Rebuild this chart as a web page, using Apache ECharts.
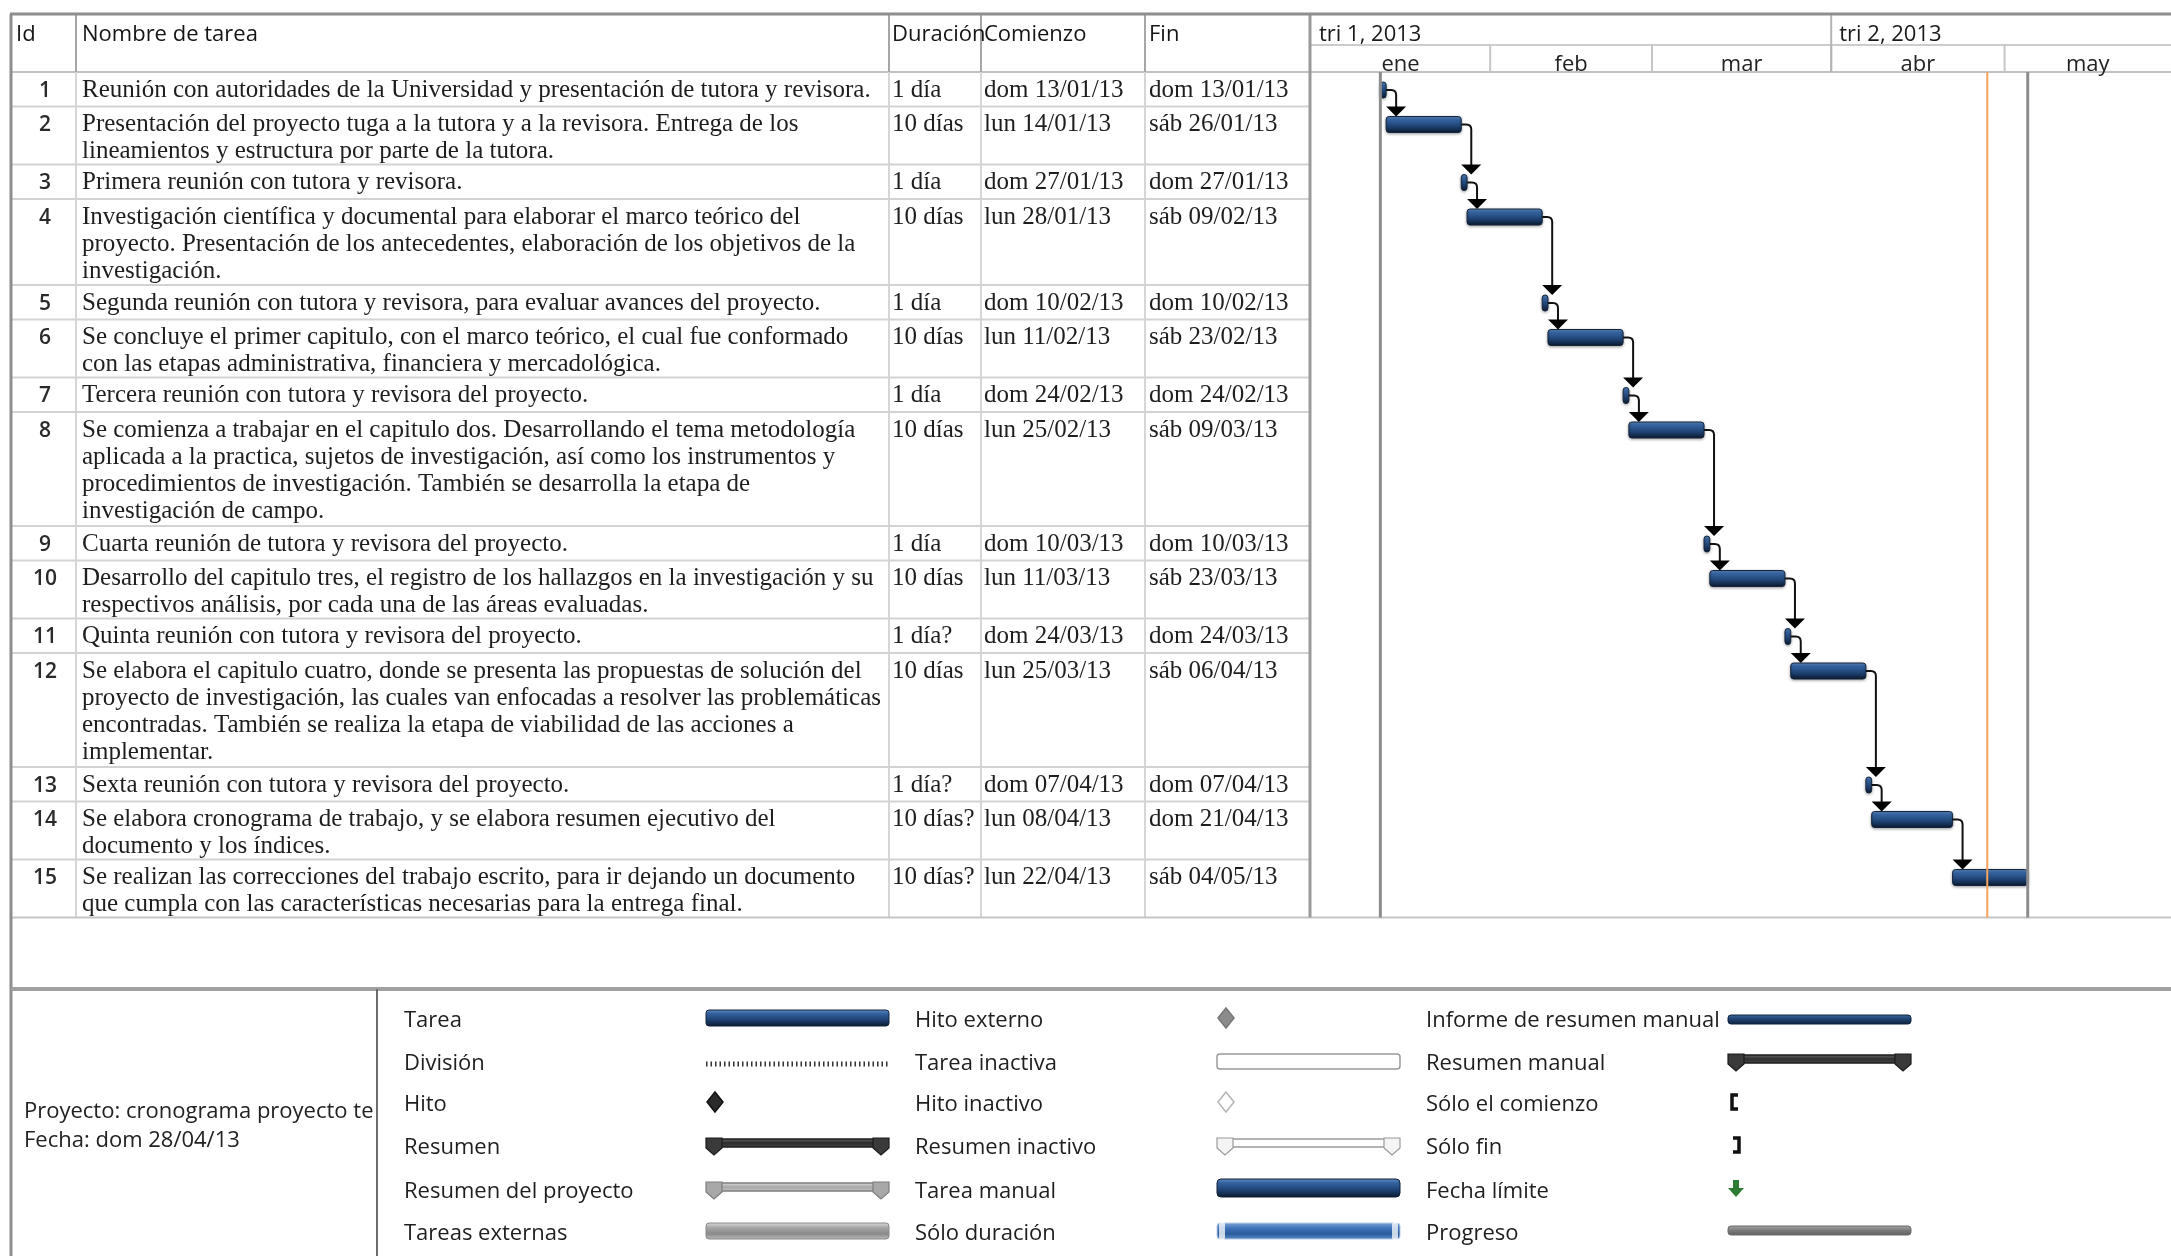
<!DOCTYPE html>
<html>
<head>
<meta charset="utf-8">
<title>Cronograma proyecto</title>
<script src="https://cdn.jsdelivr.net/npm/echarts@6/dist/echarts.min.js"></script>
<style>
  html, body { margin: 0; padding: 0; background: #ffffff; }
  #chart { width: 2171px; height: 1256px; }
</style>
</head>
<body>
<div id="chart"></div>
<script>
// ---------------- Datos del cronograma ----------------
const taskIds = [1, 2, 3, 4, 5, 6, 7, 8, 9, 10, 11, 12, 13, 14, 15];

const taskNames = [
  ["Reunión con autoridades de la Universidad y presentación de tutora y revisora."],
  ["Presentación del proyecto tuga a la tutora y a la revisora. Entrega de los",
   "lineamientos y estructura por parte de la tutora."],
  ["Primera reunión con tutora y revisora."],
  ["Investigación científica y documental para elaborar el marco teórico del",
   "proyecto. Presentación de los antecedentes, elaboración de los objetivos de la",
   "investigación."],
  ["Segunda reunión con tutora y revisora, para evaluar avances del proyecto."],
  ["Se concluye el primer capitulo, con el marco teórico, el cual fue conformado",
   "con las etapas administrativa, financiera y mercadológica."],
  ["Tercera reunión con tutora y revisora del proyecto."],
  ["Se comienza a trabajar en el capitulo dos. Desarrollando el tema metodología",
   "aplicada a la practica, sujetos de investigación, así como los instrumentos y",
   "procedimientos de investigación. También se desarrolla la etapa de",
   "investigación de campo."],
  ["Cuarta reunión de tutora y revisora del proyecto."],
  ["Desarrollo del capitulo tres, el registro de los hallazgos en la investigación y su",
   "respectivos análisis, por cada una de las áreas evaluadas."],
  ["Quinta reunión con tutora y revisora del proyecto."],
  ["Se elabora el capitulo cuatro, donde se presenta las propuestas de solución del",
   "proyecto de investigación, las cuales van enfocadas a resolver las problemáticas",
   "encontradas. También se realiza la etapa de viabilidad de las acciones a",
   "implementar."],
  ["Sexta reunión con tutora y revisora del proyecto."],
  ["Se elabora cronograma de trabajo, y se elabora resumen ejecutivo del",
   "documento y los índices."],
  ["Se realizan las correcciones del trabajo escrito, para ir dejando un documento",
   "que cumpla con las características necesarias para la entrega final."]
];

const durations = ["1 día", "10 días", "1 día", "10 días", "1 día", "10 días", "1 día", "10 días",
  "1 día", "10 días", "1 día?", "10 días", "1 día?", "10 días?", "10 días?"];

const startDates = ["dom 13/01/13", "lun 14/01/13", "dom 27/01/13", "lun 28/01/13", "dom 10/02/13",
  "lun 11/02/13", "dom 24/02/13", "lun 25/02/13", "dom 10/03/13", "lun 11/03/13", "dom 24/03/13",
  "lun 25/03/13", "dom 07/04/13", "lun 08/04/13", "lun 22/04/13"];

const endDates = ["dom 13/01/13", "sáb 26/01/13", "dom 27/01/13", "sáb 09/02/13", "dom 10/02/13",
  "sáb 23/02/13", "dom 24/02/13", "sáb 09/03/13", "dom 10/03/13", "sáb 23/03/13", "dom 24/03/13",
  "sáb 06/04/13", "dom 07/04/13", "dom 21/04/13", "sáb 04/05/13"];

// Predecesora de cada tarea (fin a comienzo)
const predecessors = [null, 1, 2, 3, 4, 5, 6, 7, 8, 9, 10, 11, 12, 13, 14];

const columnTitles = ["Id", "Nombre de tarea", "Duración", "Comienzo", "Fin"];
const quarterLabels = ["tri 1, 2013", "tri 2, 2013"];
const monthLabels = ["ene", "feb", "mar", "abr", "may"];
const timescaleYear = 2013;

const projectTitle = "Proyecto: cronograma proyecto te";
const reportDate = "dom 28/04/13";

const legendLabels = [
  ["Tarea", "División", "Hito", "Resumen", "Resumen del proyecto", "Tareas externas"],
  ["Hito externo", "Tarea inactiva", "Hito inactivo", "Resumen inactivo", "Tarea manual", "Sólo duración"],
  ["Informe de resumen manual", "Resumen manual", "Sólo el comienzo", "Sólo fin", "Fecha límite", "Progreso"]
];

// ---------------- Conversión de fechas ----------------
const DAY_MS = 86400000;
const ORIGIN = Date.UTC(timescaleYear, 0, 1);
function dayOf(str) {
  const part = str.trim().split(" ").pop();
  const [dd, mm, yy] = part.split("/").map(Number);
  return (Date.UTC(2000 + yy, mm - 1, dd) - ORIGIN) / DAY_MS;
}
const startDay = startDates.map(dayOf);
const finishDay = endDates.map(s => dayOf(s) + 1);   // fin del último día
const statusDay = dayOf(reportDate);
const projectStart = Math.min(...startDay);
const projectFinish = Math.max(...finishDay);

// ---------------- Diseño ----------------
const W = 2171, H = 1256;
const TABLE_L = 11, TOP = 14, HEAD_B = 72, GANTT_L = 1310;
const COL_SEP = [76, 889, 981, 1145];
const COL_TEXT = { id: 45, name: 82, dur: 892, start: 984, fin: 1149 };
const ROW_LINE = 28, TEXT_LINE = 27, MIN_ROW = 34.5, ROW_PAD = 2, TEXT_OFF = 18;
const BAR_OFF = 10, BAR_H = 16;
const PX_PER_DAY = 5.78;
const HEAD_TXT_Y = 35, MONTH_TXT_Y = 65;

const rowH = taskNames.map(l => Math.max(MIN_ROW, ROW_PAD + ROW_LINE * l.length));
const rowTop = [];
let acc = 0;
rowH.forEach(h => { rowTop.push(acc); acc += h; });
const TOTAL_H = acc;
const TABLE_B = HEAD_B + TOTAL_H;

const X_MIN = -1 / PX_PER_DAY;
const X_MAX = X_MIN + (W - GANTT_L) / PX_PER_DAY;

const SANS = '"Open Sans", "Noto Sans", sans-serif';
const SERIF = '"Liberation Serif", "DejaVu Serif", serif';
const BODY_FONT = '25px ' + SERIF;
const HEAD_FONT = '22px ' + SANS;

const barFill = new echarts.graphic.LinearGradient(0, 0, 0, 1, [
  { offset: 0, color: '#6390c8' },
  { offset: 0.22, color: '#3564a1' },
  { offset: 0.6, color: '#1f4374' },
  { offset: 1, color: '#0a182c' }
]);

// ---------------- Series ----------------
const tableData = taskIds.map((id, i) => [X_MIN, X_MIN, rowTop[i], rowTop[i] + rowH[i], i]);
const taskData = taskIds.map((id, i) => [startDay[i], finishDay[i], rowTop[i] + BAR_OFF, rowTop[i] + BAR_OFF + BAR_H, i]);
const monthData = monthLabels.map((m, k) => [
  (Date.UTC(timescaleYear, k, 1) - ORIGIN) / DAY_MS,
  (Date.UTC(timescaleYear, k + 1, 1) - ORIGIN) / DAY_MS, 0, 0, k]);
const quarterData = quarterLabels.map((q, k) => [
  (Date.UTC(timescaleYear, k * 3, 1) - ORIGIN) / DAY_MS,
  (Date.UTC(timescaleYear, k * 3 + 3, 1) - ORIGIN) / DAY_MS, 0, 0, k]);
const dateLineData = [
  [projectStart, projectStart, 0, TOTAL_H, 0],
  [statusDay, statusDay, 0, TOTAL_H, 1],
  [projectFinish, projectFinish, 0, TOTAL_H, 2]
];

function renderRow(params, api) {
  const i = api.value(4);
  const y0 = api.coord([X_MIN, api.value(2)])[1];
  const y1 = api.coord([X_MIN, api.value(3)])[1];
  const first = y0 + TEXT_OFF;
  const txt = (text, x, y, extra) => ({
    type: 'text',
    style: Object.assign({ text, x, y, verticalAlign: 'middle', align: 'left', font: BODY_FONT, fill: '#1e1e1e' }, extra || {})
  });
  const children = [];
  if (i < taskIds.length - 1) {
    children.push({ type: 'line', shape: { x1: TABLE_L, y1: y1, x2: GANTT_L, y2: y1 },
      style: { stroke: '#d3d3d3', lineWidth: 2 } });
  }
  children.push(txt(String(taskIds[i]), COL_TEXT.id, first + 1,
    { align: 'center', font: '600 21px ' + SANS, fill: '#2a2a2a' }));
  taskNames[i].forEach((ln, k) => children.push(txt(ln, COL_TEXT.name, first + k * TEXT_LINE)));
  children.push(txt(durations[i], COL_TEXT.dur, first));
  children.push(txt(startDates[i], COL_TEXT.start, first));
  children.push(txt(endDates[i], COL_TEXT.fin, first));
  return { type: 'group', children };
}

function renderTask(params, api) {
  const i = api.value(4);
  const a = api.coord([api.value(0), api.value(2)]);
  const b = api.coord([api.value(1), api.value(3)]);
  const children = [{
    type: 'rect',
    shape: { x: a[0], y: a[1], width: Math.max(b[0] - a[0], 4), height: b[1] - a[1], r: 3 },
    style: { fill: barFill, stroke: '#14253d', lineWidth: 1,
      shadowBlur: 3, shadowColor: 'rgba(0,0,0,0.35)', shadowOffsetY: 1 }
  }];
  // Vínculos fin-a-comienzo hacia las sucesoras
  predecessors.forEach((p, j) => {
    if (p !== taskIds[i]) return;
    const yc = (a[1] + b[1]) / 2;
    const sTop = api.coord([startDay[j], rowTop[j] + BAR_OFF])[1];
    const vx = b[0] + 10;
    const tipY = sTop;
    children.push({
      type: 'path',
      shape: { pathData: `M${b[0]},${yc} L${vx - 5},${yc} Q${vx},${yc} ${vx},${yc + 5} L${vx},${tipY - 9}` },
      style: { stroke: '#111', lineWidth: 2, fill: null }
    });
    children.push({
      type: 'polygon',
      shape: { points: [[vx - 10, tipY - 10], [vx + 10, tipY - 10], [vx, tipY]] },
      style: { fill: '#000' }
    });
  });
  return { type: 'group', children };
}

function renderDateLine(params, api) {
  const k = api.value(4);
  const p0 = api.coord([api.value(0), api.value(2)]);
  const p1 = api.coord([api.value(0), api.value(3)]);
  const style = k === 1 ? { stroke: '#f6a25a', lineWidth: 2 } : { stroke: '#8d8d8d', lineWidth: 3 };
  return { type: 'line', shape: { x1: p0[0], y1: p0[1], x2: p1[0], y2: p1[1] }, style };
}

function clampX(x) { return Math.min(Math.max(x, GANTT_L), W); }

function renderMonth(params, api) {
  const k = api.value(4);
  const xs = api.coord([api.value(0), 0])[0];
  const xe = api.coord([api.value(1), 0])[0];
  const l = clampX(xs), r = clampX(xe);
  const children = [];
  if (xs > GANTT_L + 2) {
    children.push({ type: 'line', shape: { x1: xs, y1: 45, x2: xs, y2: HEAD_B },
      style: { stroke: '#c6c6c6', lineWidth: 2 } });
  }
  if (r - l > 20) {
    children.push({ type: 'text', style: { text: monthLabels[k], x: (l + r) / 2, y: MONTH_TXT_Y,
      align: 'center', verticalAlign: 'middle', font: HEAD_FONT, fill: '#222' } });
  }
  return { type: 'group', children };
}

function renderQuarter(params, api) {
  const k = api.value(4);
  const xs = api.coord([api.value(0), 0])[0];
  const l = clampX(xs);
  const children = [];
  if (xs > GANTT_L + 2) {
    children.push({ type: 'line', shape: { x1: xs, y1: TOP, x2: xs, y2: HEAD_B },
      style: { stroke: '#b4b4b4', lineWidth: 2 } });
  }
  children.push({ type: 'text', style: { text: quarterLabels[k], x: l + 8, y: HEAD_TXT_Y,
    align: 'left', verticalAlign: 'middle', font: HEAD_FONT, fill: '#1a1a1a' } });
  return { type: 'group', children };
}

// ---------------- Elementos fijos: marcos, títulos y leyenda ----------------
const g = [];
function line(x1, y1, x2, y2, stroke, lw, z) {
  g.push({ type: 'line', z: z || 1, shape: { x1, y1, x2, y2 }, style: { stroke, lineWidth: lw } });
}
function text(t, x, y, font, fill, align) {
  g.push({ type: 'text', z: 5, style: { text: t, x, y, font, fill: fill || '#222', align: align || 'left', verticalAlign: 'middle' } });
}

// Encabezado
line(TABLE_L, HEAD_B, W, HEAD_B, '#c2c2c2', 2);
line(GANTT_L, 45, W, 45, '#cccccc', 2);
COL_SEP.forEach(x => {
  line(x, TOP, x, HEAD_B, '#a6a6a6', 2);
  line(x, HEAD_B, x, TABLE_B, '#d6d6d6', 2);
});
const titleX = [16, COL_TEXT.name, COL_TEXT.dur, COL_TEXT.start, COL_TEXT.fin];
columnTitles.forEach((t, k) => text(t, titleX[k], HEAD_TXT_Y, HEAD_FONT, '#151515'));
// Bordes
line(TABLE_L, TABLE_B, W, TABLE_B, '#c6c6c6', 2);
line(GANTT_L, TOP, GANTT_L, TABLE_B, '#9a9a9a', 3, 3);
line(TABLE_L - 1, TOP, W, TOP, '#8e8e8e', 3, 3);
line(TABLE_L, TOP, TABLE_L, H, '#8e8e8e', 3, 3);

// Cuadro de leyenda
const LEG_TOP = 989, LEG_DIV = 377;
line(TABLE_L, LEG_TOP, W, LEG_TOP, '#a0a0a0', 4, 3);
line(LEG_DIV, LEG_TOP, LEG_DIV, H, '#6c6c6c', 2, 3);
text(projectTitle, 24, 1112, HEAD_FONT, '#222');
text('Fecha: ' + reportDate, 24, 1141, HEAD_FONT, '#222');

const legRowY = [1018, 1061, 1102, 1145, 1189, 1231];
const legLabelX = [404, 915, 1426];
const legSymX = [706, 1217, 1728];
const SYM_W = 183;

function grad(stops) {
  return new echarts.graphic.LinearGradient(0, 0, 0, 1, stops.map((c, i) => ({ offset: i / (stops.length - 1), color: c })));
}
function rect(x, y, w, h, fill, stroke, r, lw) {
  g.push({ type: 'rect', z: 4, shape: { x, y, width: w, height: h, r: r || 0 },
    style: { fill, stroke: stroke || null, lineWidth: lw || 1 } });
}
function diamond(cx, cy, fill, stroke) {
  g.push({ type: 'polygon', z: 4, shape: { points: [[cx, cy - 10], [cx + 8, cy], [cx, cy + 10], [cx - 8, cy]] },
    style: { fill, stroke: stroke || null, lineWidth: 1.5 } });
}
function summary(x, cy, fill, capFill, stroke) {
  const top = cy - 7;
  rect(x + 4, top + 1, SYM_W - 8, 8, fill, stroke, 1, 1.5);
  [x, x + SYM_W - 16].forEach(cx => {
    g.push({ type: 'polygon', z: 5, shape: { points: [[cx, top], [cx + 16, top], [cx + 16, top + 10], [cx + 8, top + 17], [cx, top + 10]] },
      style: { fill: capFill, stroke: stroke || '#222', lineWidth: 1.2 } });
  });
}
function bracket(pts) {
  g.push({ type: 'polyline', z: 4, shape: { points: pts }, style: { stroke: '#111', lineWidth: 3.5, fill: null } });
}

// Etiquetas de la leyenda
legRowY.forEach((y, r) => legendLabels.forEach((col, c) => text(col[r], legLabelX[c], y + 3, HEAD_FONT, '#1e1e1e')));
// Columna 1
rect(legSymX[0], 1010, SYM_W, 16, barFill, '#14253d', 3);
g.push({ type: 'line', z: 4, shape: { x1: legSymX[0], y1: 1064, x2: legSymX[0] + SYM_W, y2: 1064 },
  style: { stroke: '#333', lineWidth: 5, lineDash: [1.5, 3] } });
diamond(715, 1102, '#2b2b2b', '#111');
summary(legSymX[0], 1145, grad(['#6a6a6a', '#2a2a2a', '#4a4a4a']), '#3a3a3a', '#1c1c1c');
summary(legSymX[0], 1189, grad(['#e2e2e2', '#a8a8a8', '#c8c8c8']), '#a8a8a8', '#7d7d7d');
rect(legSymX[0], 1223, SYM_W, 16, grad(['#dadada', '#a2a2a2', '#8a8a8a', '#bdbdbd']), '#8a8a8a', 3);
// Columna 2
diamond(1226, 1018, '#8c8c8c', '#777');
rect(legSymX[1], 1054, SYM_W, 15, '#ffffff', '#9a9a9a', 3, 1.5);
diamond(1226, 1102, '#ffffff', '#b5b5b5');
summary(legSymX[1], 1145, '#ffffff', '#f4f4f4', '#9a9a9a');
rect(legSymX[1], 1179, SYM_W, 18, barFill, '#0f1f36', 4);
rect(legSymX[1], 1223, SYM_W, 16, grad(['#7fa6da', '#3f74b8', '#2a5b9c', '#5d8cc8']), '#b8cbe4', 3);
rect(legSymX[1] + 2, 1222, 6, 18, 'rgba(255,255,255,0.75)', null, 2);
rect(legSymX[1] + SYM_W - 8, 1222, 6, 18, 'rgba(255,255,255,0.75)', null, 2);
// Columna 3
rect(legSymX[2], 1015, SYM_W, 9, grad(['#3b6aa3', '#1d3f6a', '#0f223c']), '#0f223c', 3);
summary(legSymX[2], 1061, grad(['#6a6a6a', '#2f2f2f', '#4a4a4a']), '#3a3a3a', '#1c1c1c');
bracket([[1738, 1095], [1732, 1095], [1732, 1109], [1738, 1109]]);
bracket([[1733, 1138], [1739, 1138], [1739, 1152], [1733, 1152]]);
rect(1733, 1180, 6, 9, '#2f7d32');
g.push({ type: 'polygon', z: 4, shape: { points: [[1728, 1188], [1744, 1188], [1736, 1197]] }, style: { fill: '#2f7d32' } });
rect(legSymX[2], 1226, SYM_W, 9, grad(['#a8a8a8', '#7a7a7a', '#5e5e5e']), '#6a6a6a', 3);

// ---------------- Gráfico ----------------
const chart = echarts.init(document.getElementById('chart'), null, { renderer: 'canvas', width: W, height: H });
chart.setOption({
  backgroundColor: '#ffffff',
  animation: false,
  grid: { left: GANTT_L, top: HEAD_B, width: W - GANTT_L, height: TOTAL_H, show: false },
  xAxis: { type: 'value', min: X_MIN, max: X_MAX, show: false },
  yAxis: { type: 'value', min: 0, max: TOTAL_H, inverse: true, show: false },
  tooltip: { show: false },
  graphic: { elements: g },
  series: [
    { name: 'tabla', type: 'custom', renderItem: renderRow, data: tableData, encode: { x: [0, 1], y: [2, 3] }, z: 2, silent: true },
    { name: 'tareas', type: 'custom', renderItem: renderTask, data: taskData, encode: { x: [0, 1], y: [2, 3] }, z: 3, silent: true },
    { name: 'fechas', type: 'custom', renderItem: renderDateLine, data: dateLineData, encode: { x: [0, 1], y: [2, 3] }, z: 4, silent: true },
    { name: 'meses', type: 'custom', renderItem: renderMonth, data: monthData, encode: { x: [0, 1], y: [2, 3] }, z: 2, silent: true },
    { name: 'trimestres', type: 'custom', renderItem: renderQuarter, data: quarterData, encode: { x: [0, 1], y: [2, 3] }, z: 2, silent: true }
  ]
});
</script>
</body>
</html>
